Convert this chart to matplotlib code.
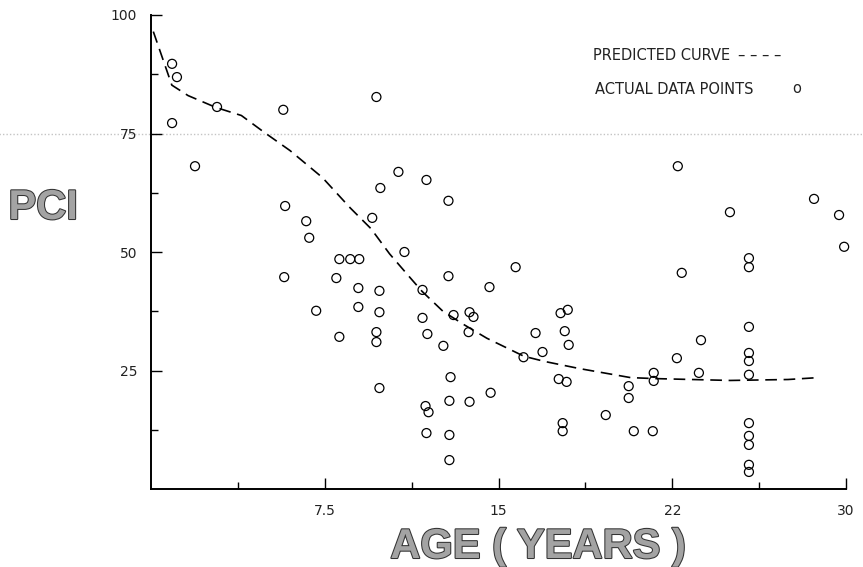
import matplotlib
matplotlib.use('Agg')
import matplotlib.pyplot as plt
import matplotlib.patheffects as pe

age = [0.91, 1.12, 0.91, 1.90, 2.85, 5.71, 9.73, 5.79, 6.70, 6.83,
       10.68, 11.89, 9.90, 12.84, 9.55, 10.94, 8.13, 8.60, 8.99, 5.75,
       8.00, 8.95, 9.86, 11.72, 12.84, 15.74, 14.61, 7.13, 8.95, 9.86,
       11.72, 13.06, 13.75, 13.92, 13.71, 11.93, 12.62, 16.60, 8.13, 9.73,
       9.73, 16.08, 16.90, 12.93, 9.86, 12.88, 13.75, 14.66, 11.85, 11.98,
       11.89, 12.88, 12.88, 22.91, 22.74, 17.68, 17.99, 17.86, 18.03, 23.74,
       22.70, 17.60, 17.94, 21.70, 21.70, 23.65, 20.62, 20.62, 19.63, 17.77,
       17.77, 20.84, 21.66, 28.62, 24.99, 29.70, 29.92, 25.81, 25.81, 25.81,
       25.81, 25.81, 25.81, 25.81, 25.81, 25.81, 25.81, 25.81]
pci = [89.7, 86.9, 77.2, 68.1, 80.6, 80.0, 82.7, 59.7, 56.5, 53.0,
       66.9, 65.2, 63.5, 60.8, 57.2, 50.0, 48.5, 48.5, 48.5, 44.7,
       44.5, 42.4, 41.8, 42.0, 44.9, 46.8, 42.6, 37.6, 38.4, 37.3,
       36.1, 36.7, 37.3, 36.3, 33.1, 32.7, 30.2, 32.9, 32.1, 33.1,
       31.0, 27.8, 28.9, 23.6, 21.3, 18.6, 18.4, 20.3, 17.5, 16.2,
       11.8, 11.4, 6.1, 45.6, 68.1, 37.1, 37.8, 33.3, 30.4, 31.4,
       27.6, 23.2, 22.6, 24.5, 22.8, 24.5, 21.7, 19.2, 15.6, 13.9,
       12.2, 12.2, 12.2, 61.2, 58.4, 57.8, 51.1, 48.7, 46.8, 34.2,
       28.7, 27.0, 24.1, 13.9, 11.2, 9.3, 5.1, 3.6]

# predicted curve
curve_age = [0.1, 0.9, 1.6, 2.8, 3.9, 4.9, 6.0, 7.4, 8.6, 9.5, 10.3, 11.2,
             11.7, 12.6, 13.5, 14.5, 16.1, 17.0, 18.5, 20.7, 21.7, 25.0, 27.5, 28.8]
curve_pci = [96.5, 85.2, 83.0, 80.5, 78.8, 75.2, 71.4, 65.7, 59.3, 54.9, 49.6, 44.5,
             41.7, 37.5, 34.7, 31.8, 28.0, 26.9, 25.4, 23.5, 23.3, 22.9, 23.1, 23.5]

xticks = [7.5, 15, 22.5, 30]
xtick_labels = ['7.5', '15', '22', '30']
xminor = [3.75, 11.25, 18.75, 26.25]
yticks = [25, 50, 75, 100]
ytick_labels = ['25', '50', '75', '100']
yminor = [12.5, 37.5, 62.5, 87.5]

fig = plt.figure(figsize=(8.63, 5.67), dpi=100)
ax = fig.add_axes([151/863, 78/567, 695/863, 474/567])

# faint scanner streak across the page
ax.axhline(75, xmin=-0.218, xmax=1.03, clip_on=False, color='#c4c4c4',
           lw=1.0, ls=(0, (1, 1.5)), zorder=0)

ax.plot(curve_age, curve_pci, color='black', lw=1.2, dashes=(7, 4), zorder=2)
ax.scatter(age, pci, s=42, facecolors='none', edgecolors='black',
           linewidths=0.9, clip_on=False, zorder=3)

ax.set_xlim(0, 30)
ax.set_ylim(0, 100)
for s in ['top', 'right']:
    ax.spines[s].set_visible(False)
for s in ['left', 'bottom']:
    ax.spines[s].set_linewidth(1.4)

ax.set_xticks(xticks)
ax.set_xticklabels(xtick_labels)
ax.set_xticks(xminor, minor=True)
ax.set_yticks(yticks)
ax.set_yticklabels(ytick_labels)
ax.set_yticks(yminor, minor=True)
ax.tick_params(which='major', direction='in', length=8, width=1, labelsize=10,
               labelcolor='#222222')
ax.tick_params(which='minor', direction='in', length=5, width=1)
ax.tick_params(axis='x', pad=11)
ax.tick_params(axis='y', pad=10)

# legend written as plain text, like on the original
fig.text(593/863, 1 - 56/567, 'PREDICTED CURVE', fontsize=10.5, color='#222222',
         ha='left', va='center')
fig.text(738/863, 1 - 56/567, '\u2013 \u2013 \u2013 \u2013', fontsize=10.5,
         color='#222222', ha='left', va='center')
fig.text(595/863, 1 - 90/567, 'ACTUAL DATA POINTS', fontsize=10.5, color='#222222',
         ha='left', va='center')
fig.text(797/863, 1 - 89/567, 'o', fontsize=10.5, color='#222222',
         ha='center', va='center')

big = dict(family='Liberation Sans', weight='bold', fontsize=30, color='#a3a3a3',
           path_effects=[pe.withStroke(linewidth=1.5, foreground='#333333')])
fig.text(43/863, 1 - 208/567, 'PCI', ha='center', va='center', **big)
fig.text(538/863, 1 - 547/567, 'AGE ( YEARS )', ha='center', va='center', **big)

fig.savefig('out.png', dpi=100)
